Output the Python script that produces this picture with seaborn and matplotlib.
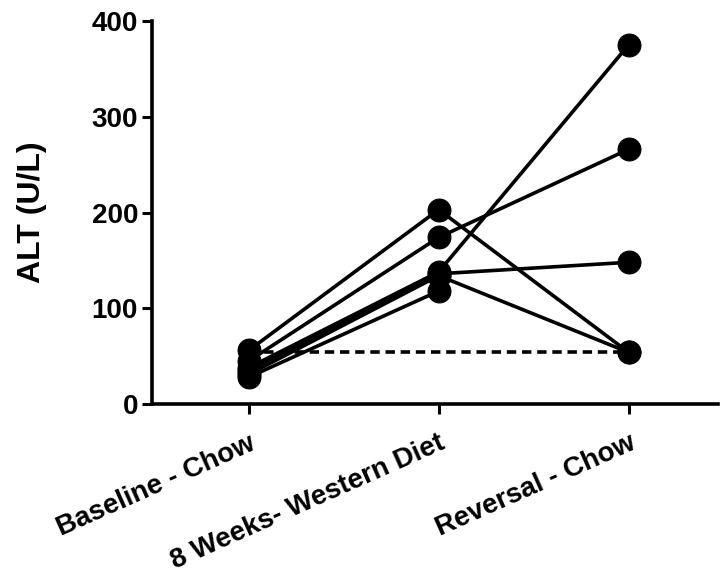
import numpy as np
import pandas as pd
import seaborn as sns
import matplotlib.pyplot as plt

# ALT values per animal at the three time points
groups = ['Baseline - Chow', '8 Weeks- Western Diet', 'Reversal - Chow']
baseline = [56, 45, 38, 35, 31, 28]
week8 = [203, 174, 138, 136, 134, 118]
reversal = [54, 266, 375, 148, 54, np.nan]
ref_level = [54, 54]  # dashed line, baseline -> reversal

sns.set_style('ticks')
plt.rcParams['font.family'] = ['Liberation Sans', 'DejaVu Sans']
plt.rcParams['font.weight'] = 'bold'
for k in ['text.color', 'axes.labelcolor', 'xtick.color', 'ytick.color', 'axes.edgecolor']:
    plt.rcParams[k] = 'black'

df = pd.DataFrame()
n = len(baseline)
df['animal'] = list(range(n)) * 3
df['pos'] = [0] * n + [1] * n + [2] * n
df['ALT'] = baseline + week8 + reversal
df = df.dropna()

ref = pd.DataFrame({'pos': [0, 2], 'ALT': ref_level})

fig = plt.figure(figsize=(7.2, 5.81), dpi=100)
ax = fig.add_axes([0.211, 0.3046, 0.786, 0.6593])

sns.lineplot(x='pos', y='ALT', data=ref, ax=ax, color='black', lw=2.6,
             linestyle=(0, (2.6, 1.6)), zorder=1)
sns.lineplot(x='pos', y='ALT', data=df, units='animal', estimator=None, ax=ax,
             color='black', lw=2.6, marker='o', ms=16.5, mec='black', zorder=2)

ax.set_xlim(-0.51, 2.47)
ax.set_ylim(0, 400)
ax.set_yticks([0, 100, 200, 300, 400])
ax.set_xticks([0, 1, 2])
ax.set_xticklabels(groups, rotation=24, ha='right', rotation_mode='anchor',
                   fontsize=20, fontweight='bold')
for lab in ax.get_yticklabels():
    lab.set_fontsize(20)
    lab.set_fontweight('bold')
ax.set_xlabel('')
ax.set_ylabel('ALT (U/L)', fontsize=23, fontweight='bold', labelpad=32)

sns.despine(ax=ax)
for s in ['left', 'bottom']:
    ax.spines[s].set_linewidth(2.6)
ax.tick_params(width=2.2, length=7, color='black', pad=3)
ax.tick_params(axis='x', pad=12)

fig.savefig('out.png', dpi=100)
